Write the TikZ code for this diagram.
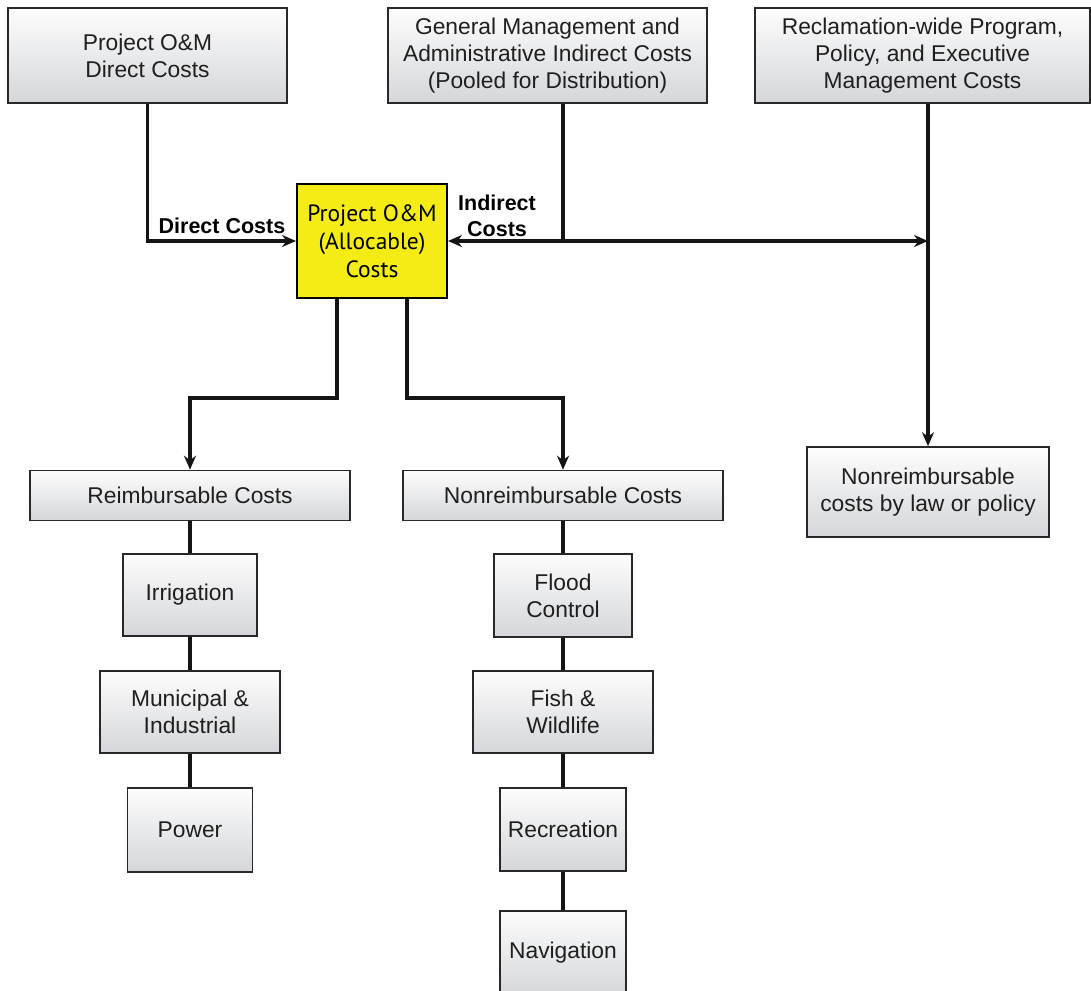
\documentclass[tikz,border=0pt]{standalone}
\usepackage{fontspec}
\setmainfont{Liberation Sans}
\newfontfamily\myriad{PT Sans}
\usetikzlibrary{arrows.meta}
\definecolor{boxedge}{RGB}{40,40,40}
\definecolor{boxtop}{RGB}{253,253,253}
\definecolor{boxbot}{RGB}{212,214,217}
\definecolor{hiyel}{RGB}{244,236,20}
\begin{document}
\begin{tikzpicture}[x=1pt,y=-1pt,
  box/.style={draw=boxedge, line width=1.6pt, top color=boxtop, bottom color=boxbot,
    align=center, inner sep=0pt, font=\fontsize{22.8}{27}\selectfont, text=black!88},
  conn/.style={line width=3.2pt, draw=black!92},
  tip/.tip={Stealth[length=14pt,width=12pt]},
  arr/.style={conn, -tip},
  lbl/.style={font=\bfseries\fontsize{21.5}{26}\selectfont, align=center, inner sep=0pt}]
\clip (0,0) rectangle (1091,990);
\useasboundingbox (0,0) rectangle (1091,990);

% top row
\node[box, minimum width=279, minimum height=95] (t1) at (147.5,55.5) {Project O\&M\\Direct Costs};
\node[box, minimum width=319, minimum height=95] (t2) at (547.5,55.5) {General Management and\\Administrative Indirect Costs\\(Pooled for Distribution)};
\node[box, minimum width=335, minimum height=95] (t3) at (922.5,55.5) {Reclamation-wide Program,\\Policy, and Executive\\Management Costs};

% central yellow box
\node[draw=black, line width=2pt, fill=hiyel, minimum width=150, minimum height=114,
  align=center, inner sep=0pt, font=\myriad\fontsize{23.5}{28}\selectfont] (y) at (372,241)
  {Project O\&M\\(Allocable)\\Costs};

% second level
\node[box, minimum width=320, minimum height=50] (reimb) at (190,495.5) {Reimbursable Costs};
\node[box, minimum width=320, minimum height=50] (nonr) at (563,495.5) {Nonreimbursable Costs};
\node[box, minimum width=242, minimum height=90] (law) at (928,492) {Nonreimbursable\\costs by law or policy};

% left column
\node[box, minimum width=134, minimum height=82] (irr) at (190,595) {Irrigation};
\node[box, minimum width=180, minimum height=82] (mun) at (190,712) {Municipal \&\\Industrial};
\node[box, minimum width=125, minimum height=84] (pow) at (190,830) {Power};

% right column
\node[box, minimum width=138, minimum height=83] (flood) at (563,595.5) {Flood\\Control};
\node[box, minimum width=180, minimum height=82] (fish) at (563,712) {Fish \&\\Wildlife};
\node[box, minimum width=126, minimum height=83] (rec) at (563,829.5) {Recreation};
\node[box, minimum width=126, minimum height=84] (nav) at (563,953) {Navigation};

% labels
\node[lbl] (dl) at (222,226) {Direct Costs};
\node[lbl] (il) at (497,216) {Indirect\\Costs};

% helper coordinates
\coordinate (J2) at (563,241);
\coordinate (J3) at (928,241);
\coordinate (bl) at (337,398);
\coordinate (br) at (407,398);

% connectors
\draw[arr] (t1.south) |- (y.west);
\draw[conn] (t2.south -| J2) -- (J2);
\draw[conn, tip-tip] (y.east) -- (J3);
\draw[arr] (t3.south -| J3) -- (law.north);
\draw[arr] (y.south -| bl) -- (bl) -| (reimb.north);
\draw[arr] (y.south -| br) -- (br) -| (nonr.north);

\draw[conn] (reimb.south) -- (irr.north);
\draw[conn] (irr.south) -- (mun.north);
\draw[conn] (mun.south) -- (pow.north);
\draw[conn] (nonr.south) -- (flood.north);
\draw[conn] (flood.south) -- (fish.north);
\draw[conn] (fish.south) -- (rec.north);
\draw[conn] (rec.south) -- (nav.north);
\end{tikzpicture}
\end{document}
